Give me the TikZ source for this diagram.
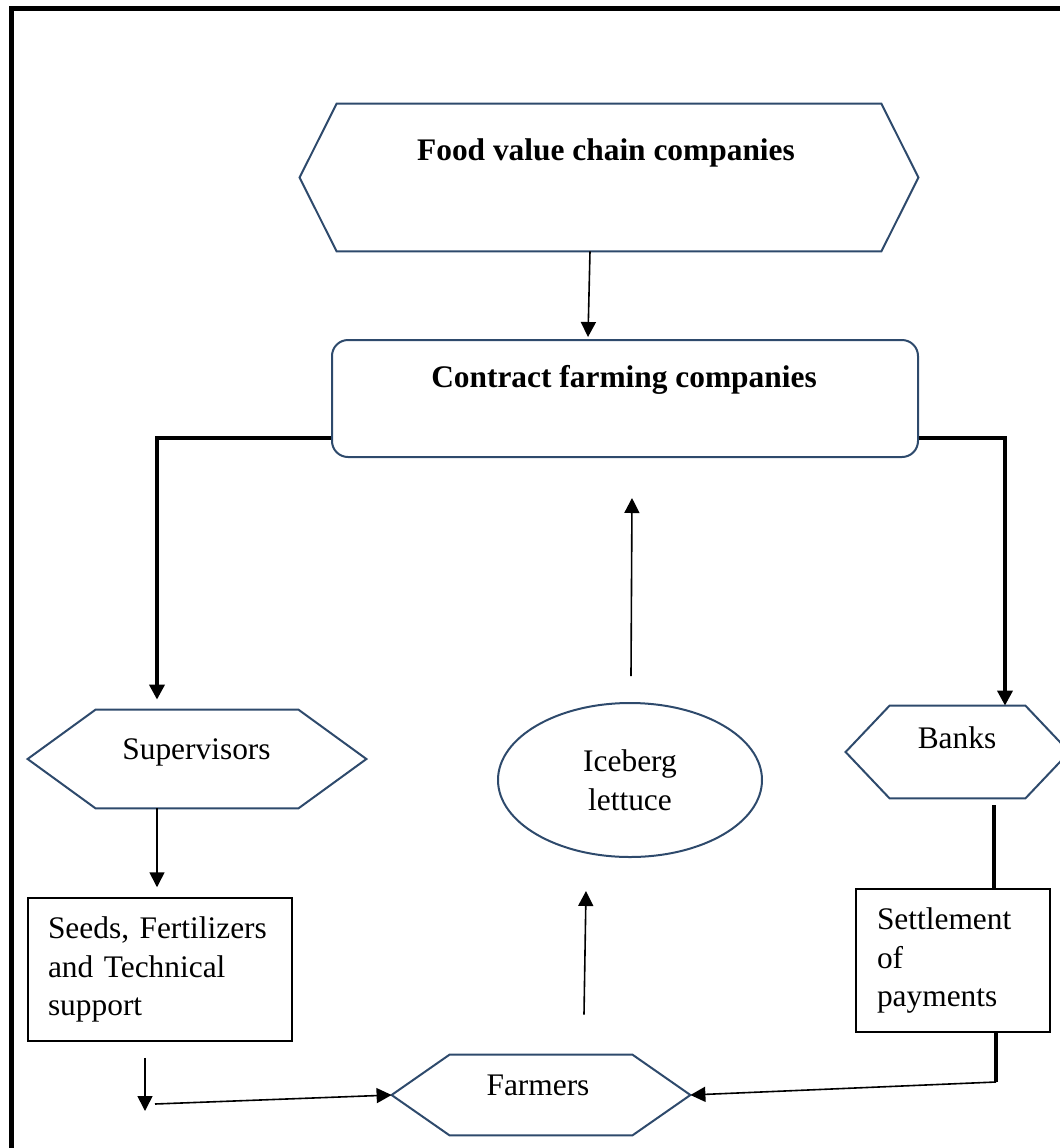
\documentclass[tikz,border=0pt]{standalone}
\usepackage{fontspec}
\setmainfont{Liberation Serif}
\usetikzlibrary{calc,arrows.meta,shapes.geometric}
\definecolor{hexblue}{RGB}{46,74,108}
\newcommand\myhex[2]{\draw[hexline] (#1.west) -- ([xshift=#2]#1.north west) -- ([xshift=-#2]#1.north east) -- (#1.east) -- ([xshift=-#2]#1.south east) -- ([xshift=#2]#1.south west) -- cycle;}
\frenchspacing
\begin{document}
\begin{tikzpicture}[x=0.5pt,y=-0.5pt,
  every node/.style={font=\fontsize{15.7}{19.3}\selectfont},
  hexframe/.style={draw=none, inner sep=0pt},
  hexline/.style={draw=hexblue, line width=1pt, line join=miter},
  lbl/.style={anchor=base, inner sep=0pt},
  boldlbl/.style={anchor=base, inner sep=0pt, font=\fontsize{15.7}{19.3}\selectfont\bfseries},
  txtbox/.style={draw=black, line width=0.75pt, align=left, inner xsep=10pt, inner ysep=0pt, minimum height=71.5pt},
  arr/.style={line width=0.8pt, -{Triangle[length=7.5pt,width=7.5pt]}},
  thickarr/.style={line width=1.8pt, line join=miter, -{Triangle[length=7.5pt,width=7.5pt]}},
  thickline/.style={line width=2pt},
]
\useasboundingbox (0,0) rectangle (1060,1148);
% frame
\draw[line width=2.5pt, line join=miter] (11.5,1160) -- (11.5,8.5) -- (1075,8.5);

% Food value chain companies
\node[hexframe, minimum width=309pt, minimum height=73.5pt] (food) at (609,177.5) {};
\myhex{food}{18.5pt}
\node[boldlbl] (foodtxt) at (606,160) {Food value chain companies};

% Contract farming companies
\node[draw=hexblue, line width=1pt, rounded corners=8pt, minimum width=293pt, minimum height=58.5pt, inner sep=0pt] (contract) at (625,398.5) {};
\node[boldlbl] (contracttxt) at (624,387) {Contract farming companies};

% Supervisors
\node[hexframe, minimum width=169pt, minimum height=49pt] (sup) at (197,759) {};
\myhex{sup}{34pt}
\node[lbl] (suptxt) at (196.5,759) {Supervisors};

% Banks
\node[hexframe, minimum width=111.5pt, minimum height=46pt] (banks) at (957.5,752) {};
\myhex{banks}{22pt}
\node[lbl] (bankstxt) at (957,748) {Banks};

% Farmers
\node[hexframe, minimum width=149pt, minimum height=40pt] (farm) at (541,1095) {};
\myhex{farm}{29pt}
\node[lbl] (farmtxt) at (538,1095) {Farmers};

% Iceberg lettuce
\node[ellipse, draw=hexblue, line width=1pt, minimum width=132pt, minimum height=77pt, inner sep=0pt, align=center] (ice) at (630,780) {Iceberg\\lettuce};

% Text boxes
\node[txtbox, text width=112pt] (seeds) at (160,969.5) {Seeds, Fertilizers\\and Technical\\support};
\node[txtbox, text width=76pt, inner xsep=10.5pt] (settle) at (953,960.5) {Settlement\\of\\payments};

% free ends
\coordinate (seedsEnd) at (145,1111);
\coordinate (settleEnd) at (996,1082);

% connectors
\draw[arr] ($(food.south)+(-19,0)$) -- ($(contract.north)+(-37,-2)$);
\draw[thickarr] ($(contract.south west)+(0,-20)$) -| ($(sup.north)+(-40,-10)$);
\draw[thickarr] ($(contract.south east)+(0,-20)$) -| ($(banks.north)+(47.5,0)$);
\draw[arr] ($(sup.south)+(-40,0)$) -- ($(seeds.north)+(-3,-10)$);
\draw[arr] ($(seeds.south)+(-15,16)$) -- (seedsEnd);
\draw[arr] ($(seedsEnd)+(10,-7)$) -- (farm.west);
\draw[arr] ($(farm.north)+(43,-40)$) -- ($(ice.south)+(-44,33)$);
\draw[arr] ($(ice.north)+(1,-26)$) -- ($(contract.south)+(7,40)$);
\draw[thickline] ($(banks.south)+(36.5,7)$) -- ($(settle.north)+(41,0)$);
\draw[thickline] ($(settle.south)+(43,0)$) -- (settleEnd);
\draw[arr] (settleEnd) -- (farm.east);
\end{tikzpicture}
\end{document}
